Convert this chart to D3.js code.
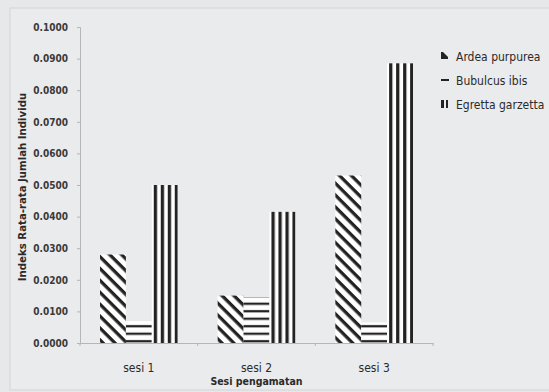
<!DOCTYPE html>
<html><head><meta charset="utf-8">
<script src="https://cdn.jsdelivr.net/npm/d3@7/dist/d3.min.js"></script>
<style>
html,body{margin:0;padding:0;background:#e7e8ea;}
svg{display:block;}
</style></head>
<body>
<svg id="c" width="549" height="392"></svg>
<script>
const categories = ["sesi 1", "sesi 2", "sesi 3"];
const seriesNames = ["Ardea purpurea", "Bubulcus ibis", "Egretta garzetta"];
const ardea = [0.0280, 0.0150, 0.0530];
const bubulcus = [0.0070, 0.0145, 0.0065];
const egretta = [0.0500, 0.0415, 0.0885];
const yTicks = [0, 0.01, 0.02, 0.03, 0.04, 0.05, 0.06, 0.07, 0.08, 0.09, 0.1];
const yTitle = "Indeks Rata-rata Jumlah Individu";
const xTitle = "Sesi pengamatan";

const svg = d3.select("#c");
const W = 549, H = 392;
const m = {l: 80, r: 116, t: 27, b: 49};
const ink = "#232323";
const narrow = "'Liberation Sans Narrow', 'DejaVu Sans Condensed', sans-serif";

// frame
svg.append("rect").attr("x", 10).attr("y", 8).attr("width", 560).attr("height", 382)
  .attr("fill", "#eaebec").attr("stroke", "#d2d3d4").attr("stroke-width", 1);

const x0 = d3.scaleBand().domain(categories).range([m.l, W - m.r]).paddingInner(0.34).paddingOuter(0.17);
const x1 = d3.scaleBand().domain(seriesNames).range([0, x0.bandwidth()]);
const y = d3.scaleLinear().domain([0, 0.1]).range([H - m.b, m.t]);

const defs = svg.append("defs");
// diagonal
const pd = defs.append("pattern").attr("id", "pA").attr("patternUnits", "userSpaceOnUse")
  .attr("width", 8.4).attr("height", 8.4).attr("patternTransform", "rotate(45)");
pd.append("rect").attr("width", 8.4).attr("height", 8.4).attr("fill", "#fff");
pd.append("rect").attr("y", 0).attr("width", 8.4).attr("height", 3.3).attr("fill", ink);
// horizontal
const ph = defs.append("pattern").attr("id", "pB").attr("patternUnits", "userSpaceOnUse")
  .attr("width", 10).attr("height", 7.5).attr("y", H - m.b);
ph.append("rect").attr("width", 10).attr("height", 7.5).attr("fill", "#fff");
ph.append("rect").attr("y", 4.6).attr("width", 10).attr("height", 2.3).attr("fill", ink);

const data = categories.map((c, i) => ({cat: c, vals: [ardea[i], bubulcus[i], egretta[i]]}));

// vertical patterns per bar (aligned)
data.forEach((d, i) => {
  const bx = x0(d.cat) + x1(seriesNames[2]);
  const pv = defs.append("pattern").attr("id", "pC" + i).attr("patternUnits", "userSpaceOnUse")
    .attr("width", 7).attr("height", 10).attr("x", bx);
  pv.append("rect").attr("width", 7).attr("height", 10).attr("fill", "#fff");
  pv.append("rect").attr("x", 2).attr("width", 3.3).attr("height", 10).attr("fill", ink);
});

// axes
const yAxis = svg.append("g").attr("transform", `translate(${m.l},0)`)
  .call(d3.axisLeft(y).tickValues(yTicks).tickFormat(d3.format(".4f")).tickSize(3).tickPadding(9));
yAxis.select(".domain").attr("stroke", "#b5b6b7");
yAxis.selectAll(".tick line").attr("stroke", "#b5b6b7");
yAxis.selectAll("text").attr("font-family", narrow)
  .attr("font-size", 10).attr("font-weight", "bold").attr("fill", "#3a3a3a");

const xAxis = svg.append("g").attr("transform", `translate(0,${H - m.b})`)
  .call(d3.axisBottom(x0).tickSize(0).tickPadding(20));
xAxis.select(".domain").attr("stroke", "#b5b6b7");
xAxis.selectAll("text").attr("font-family", narrow)
  .attr("font-size", 12).attr("fill", "#2a2a2a");
// category boundary ticks
[0, 1, 2, 3].forEach(k => {
  const tx = m.l + k * (W - m.r - m.l) / 3;
  svg.append("line").attr("x1", tx).attr("x2", tx).attr("y1", H - m.b).attr("y2", H - m.b + 3)
    .attr("stroke", "#b5b6b7");
});

// bars
const g = svg.append("g");
data.forEach((d, i) => {
  d.vals.forEach((v, j) => {
    const fill = j === 0 ? "url(#pA)" : j === 1 ? "url(#pB)" : `url(#pC${i})`;
    g.append("rect").attr("x", x0(d.cat) + x1(seriesNames[j])).attr("y", y(v))
      .attr("width", x1.bandwidth()).attr("height", y(0) - y(v)).attr("fill", fill);
  });
});

// axis titles
svg.append("text").attr("transform", `translate(26,${(y(0) + y(0.1)) / 2 + 2}) rotate(-90)`)
  .attr("text-anchor", "middle").attr("font-family", narrow)
  .attr("font-size", 11.3).attr("font-weight", "bold").attr("fill", "#2a2a2a").text(yTitle);
svg.append("text").attr("x", x0(categories[1]) + x0.bandwidth() / 2).attr("y", 385)
  .attr("text-anchor", "middle").attr("font-family", narrow)
  .attr("font-size", 10.5).attr("font-weight", "bold").attr("fill", "#2a2a2a").text(xTitle);

// legend
const lg = svg.append("g").attr("transform", "translate(441,56)");
seriesNames.forEach((s, j) => {
  const row = lg.append("g").attr("transform", `translate(0,${j * 24})`);
  if (j === 0) {
    row.append("path").attr("d", "M0,-4 L2,-4 L7,1 L7,3 L0,3 Z").attr("fill", ink);
  } else if (j === 1) {
    row.append("rect").attr("x", 0).attr("y", -1).attr("width", 8).attr("height", 2).attr("fill", ink);
  } else {
    row.append("rect").attr("x", 0).attr("y", -4).attr("width", 3).attr("height", 8).attr("fill", ink);
    row.append("rect").attr("x", 5).attr("y", -4).attr("width", 2).attr("height", 8).attr("fill", ink);
  }
  row.append("text").attr("x", 15).attr("y", 4.5).attr("font-family", narrow)
    .attr("font-size", 12).attr("fill", "#2a2a2a").text(s);
});
</script>
</body></html>
